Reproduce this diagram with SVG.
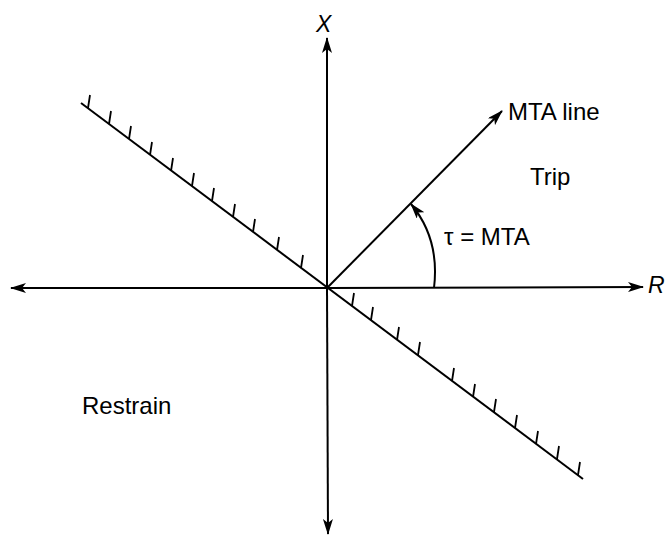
<svg xmlns="http://www.w3.org/2000/svg" width="667" height="536" viewBox="0 0 667 536">
<style>
.ax{stroke:#000;stroke-width:2;fill:none}
.tk{stroke:#000;stroke-width:1.8;fill:none}
.t{font-family:"Liberation Sans",Arial,sans-serif;font-size:24px;fill:#000}
.i{font-family:"Liberation Sans",Arial,sans-serif;font-style:italic;font-size:23px;fill:#000}
</style>
<defs>
<marker id="ah" viewBox="0 0 16 10" refX="15" refY="5" markerWidth="16" markerHeight="10" markerUnits="userSpaceOnUse" orient="auto">
<path d="M0,0 L16,5 L0,10 L4,5 Z" fill="#000"/>
</marker>
</defs>
<rect width="667" height="536" fill="#fff"/>
<g id="connectors">
<line class="ax" x1="327" y1="288" x2="327" y2="38" marker-end="url(#ah)"/>
<line class="ax" x1="327" y1="288" x2="328" y2="534" marker-end="url(#ah)"/>
<line class="ax" x1="327" y1="288" x2="11" y2="288" marker-end="url(#ah)"/>
<line class="ax" x1="327" y1="288" x2="643" y2="287" marker-end="url(#ah)"/>
<line class="ax" x1="327" y1="288" x2="502" y2="111" marker-end="url(#ah)"/>
<path class="ax" d="M434,288 C438,255 431,228 411,204" marker-end="url(#ah)"/>
</g>
<g id="restraint-boundary">
<line class="ax" x1="81" y1="103" x2="583" y2="479"/>
<path class="tk" d="M88,108 l2,-13 M109,124 l2,-13 M129,139 l2,-13 M150,155 l2,-13 M171,171 l2,-13 M192,186 l2,-13 M212,201 l2,-13 M233,217 l2,-13 M253,232 l2,-13 M277,250 l2,-13 M301,268 l2,-13 M352,306 l2,-13 M371,320 l2,-13 M397,340 l2,-13 M418,355 l2,-13 M452,381 l2,-13 M473,397 l2,-13 M494,412 l2,-13 M515,428 l2,-13 M536,444 l2,-13 M557,459 l2,-13 M578,475 l2,-13"/>
</g>
<g id="labels">
<text class="i" x="316" y="32">X</text>
<text class="i" x="648" y="293">R</text>
<text class="t" x="508" y="120">MTA line</text>
<text class="t" x="530" y="185">Trip</text>
<text class="t" x="444" y="245">τ = MTA</text>
<text class="t" x="82" y="414">Restrain</text>
</g>
</svg>
